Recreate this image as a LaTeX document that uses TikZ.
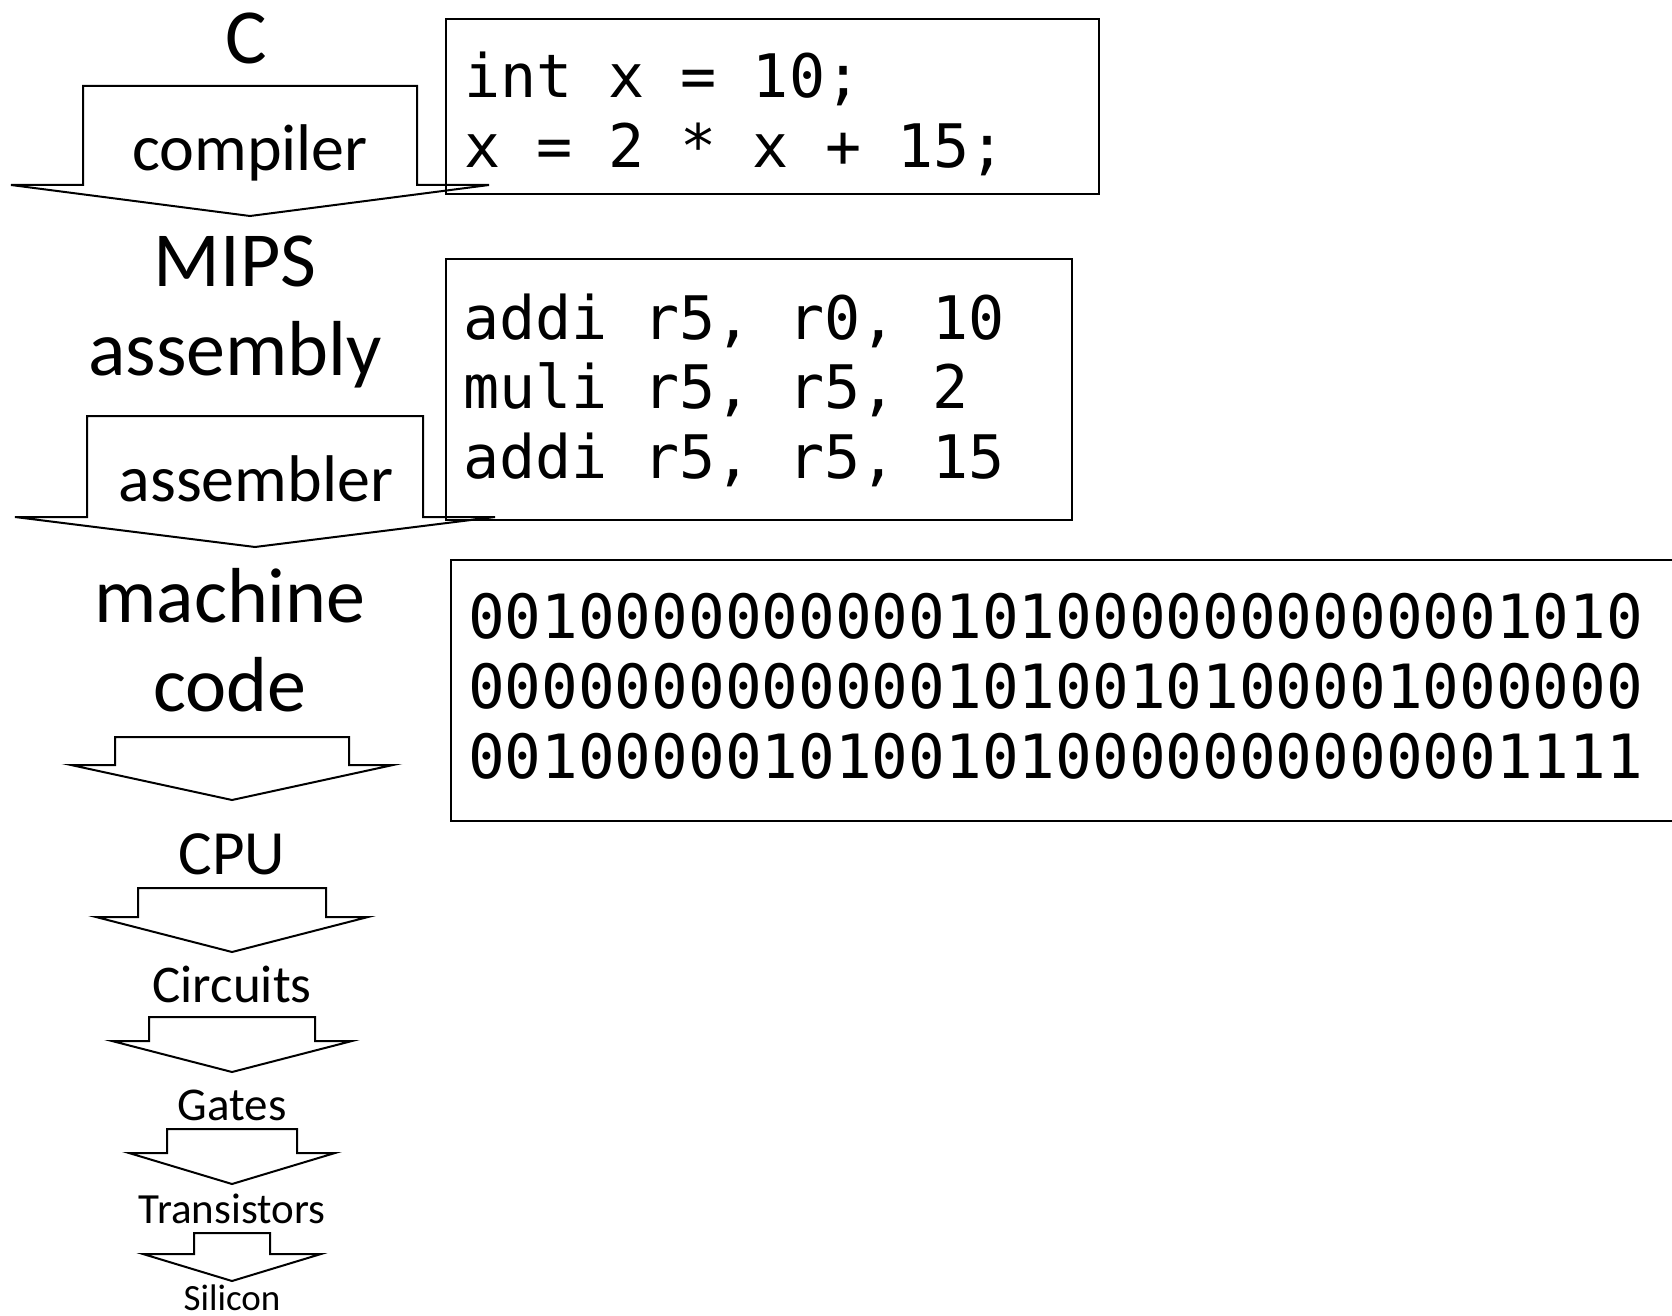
\documentclass[tikz,border=0pt]{standalone}
\usepackage{fontspec}
\setmainfont{Carlito}
\newfontfamily\codefont{DejaVu Sans Mono}

\newcommand{\fsize}[1]{\fontsize{#1}{#1}\selectfont}
% block arrow: centre x, shaft half width, head half width, top y, shoulder y, tip y
\newcommand{\layerarrow}[6]{%
  \draw (#1-#2,#5) -- (#1-#2,#4) -- (#1+#2,#4) -- (#1+#2,#5)
    -- (#1+#3,#5) -- (#1,#6) -- (#1-#3,#5) -- cycle;}

\tikzset{
  layer/.style={inner sep=0pt,anchor=base},
  code/.style={inner sep=0pt,anchor=base west,font=\codefont\fsize{60}},
}

\begin{document}
\begin{tikzpicture}[x=1pt,y=-1pt,line width=2pt]
\useasboundingbox (0,0) rectangle (1672,1316);
\clip (0,0) rectangle (1672,1316);

% the levels, top to bottom
\node[layer,font=\fsize{78}] (c) at (246,64) {C};
\node[layer,font=\fsize{66}] (compiler) at (250,171) {compiler};
\node[layer,font=\fsize{78}] (mips) at (235,286) {MIPS};
\node[layer,font=\fsize{78}] (assembly) at (235,375) {assembly};
\node[layer,font=\fsize{66}] (assembler) at (256,501) {assembler};
\node[layer,font=\fsize{78}] (machine) at (230,622) {machine};
\node[layer,font=\fsize{78}] (mcode) at (230,711) {code};
\node[layer,font=\fsize{63}] (cpu) at (232,874) {CPU};
\node[layer,font=\fsize{53}] (circuits) at (232,1002) {Circuits};
\node[layer,font=\fsize{47}] (gates) at (232,1120) {Gates};
\node[layer,font=\fsize{43}] (transistors) at (232,1223) {Transistors};
\node[layer,font=\fsize{37}] (silicon) at (232,1310) {Silicon};

% arrows between the levels
\layerarrow{250}{167}{239}{86}{185}{216}
\layerarrow{255}{168}{240}{416}{517}{547}
\layerarrow{232}{117}{161}{737}{765}{800}
\layerarrow{232}{94}{136}{888}{917}{952}
\layerarrow{232}{83}{120}{1017}{1041}{1072}
\layerarrow{232}{65}{103}{1129}{1153}{1184}
\layerarrow{232}{38}{89}{1233}{1254}{1281}

% source
\draw (446,19) rectangle (1099,194);
\node[code] (src1) at (463,98) {int x = 10;};
\node[code] (src2) at (463,168) {x = 2 * x + 15;};

% assembly
\draw (446,259) rectangle (1072,520);
\node[code] (asm1) at (462,339) {addi r5, r0, 10};
\node[code] (asm2) at (462,408) {muli r5, r5, 2};
\node[code] (asm3) at (462,478) {addi r5, r5, 15};

% machine words
\draw (451,560) rectangle (1700,821);
\node[code,font=\codefont\fsize{61}] (bin1) at (467,638) {00100000000001010000000000001010};
\node[code,font=\codefont\fsize{61}] (bin2) at (467,708) {00000000000001010010100001000000};
\node[code,font=\codefont\fsize{61}] (bin3) at (467,778) {00100000101001010000000000001111};
\end{tikzpicture}
\end{document}
